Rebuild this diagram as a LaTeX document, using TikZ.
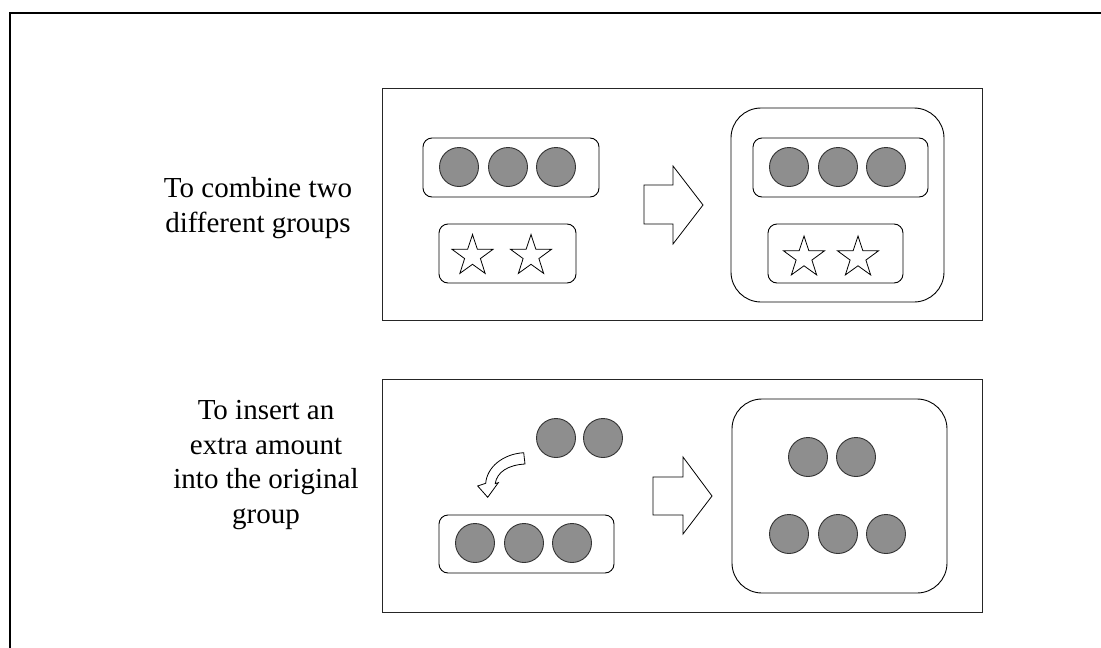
\documentclass[tikz,border=0pt]{standalone}
\usepackage{fontspec}
\setmainfont{Liberation Serif}
\usetikzlibrary{calc}
\begin{document}
\begin{tikzpicture}[x=1pt,y=-1pt,
  frame/.style={line width=2.4pt,line cap=rect},
  panel/.style={draw=black!85,line width=1pt},
  grp/.style={draw=black,line width=0.9pt,rounded corners=9pt},
  biggrp/.style={draw=black,line width=0.9pt,rounded corners=30pt},
  ball/.style={circle,draw=black!80,line width=0.9pt,fill=ballgray,minimum size=39pt,inner sep=0pt},
  blockarrow/.style={draw=black,line width=0.8pt,fill=white,line join=miter},
  starshape/.style={draw=black,line width=0.8pt,fill=white,line join=miter},
  label/.style={align=center,font=\fontsize{29}{34.5}\selectfont,inner sep=0pt}
]
\definecolor{ballgray}{RGB}{142,142,142}
\useasboundingbox (0,0) rectangle (1101,648);
% outer frame
\draw[frame] (10,660) -- (10,13) -- (1110,13);

% ---------- panel 1 ----------
\draw[panel] (382,88) rectangle (982,320);
\node[label] (t1) at (258,208) {To combine two\\different groups};
\draw[grp] (423,138) rectangle (599,197);
\node[ball] (a1) at (459,167) {};
\node[ball] (a2) at (508,167) {};
\node[ball] (a3) at (556,167) {};
\draw[grp] (439,224) rectangle (576,283);
\foreach \cx/\cy in {472.5/256,531/256,804/257.5,858/257.5}{
  \draw[starshape] ($(\cx,\cy)+(-90:21.5)$)
    -- ($(\cx,\cy)+(-54:8.3)$) -- ($(\cx,\cy)+(-18:21.5)$)
    -- ($(\cx,\cy)+(18:8.3)$) -- ($(\cx,\cy)+(54:21.5)$)
    -- ($(\cx,\cy)+(90:8.3)$) -- ($(\cx,\cy)+(126:21.5)$)
    -- ($(\cx,\cy)+(162:8.3)$) -- ($(\cx,\cy)+(198:21.5)$)
    -- ($(\cx,\cy)+(234:8.3)$) -- cycle;
}
\draw[blockarrow] (644,185) -- (673,185) -- (673,166) -- (703,205) -- (673,244) -- (673,224) -- (644,224) -- cycle;
\draw[biggrp] (731,108) rectangle (944,302);
\draw[grp] (753,138) rectangle (928,197);
\node[ball] (b1) at (789,167) {};
\node[ball] (b2) at (838,167) {};
\node[ball] (b3) at (886,167) {};
\draw[grp] (768,224) rectangle (903,283);

% ---------- panel 2 ----------
\draw[panel] (382,379) rectangle (982,612);
\node[label] (t2) at (266,465) {To insert an\\extra amount\\into the original\\group};
\node[ball] (c1) at (556,438) {};
\node[ball] (c2) at (603,438) {};
\draw[blockarrow] (523.7,452.7) .. controls (503,454) and (487,467) .. (485.7,483.3)
  -- (477.7,486) -- (487.7,497.3) -- (498.3,482.7) -- (495.2,483.6)
  .. controls (497,472) and (508,465) .. (525,464) -- cycle;
\draw[grp] (439,515) rectangle (614,573);
\node[ball] (d1) at (475,543) {};
\node[ball] (d2) at (524,543) {};
\node[ball] (d3) at (572,543) {};
\draw[blockarrow] (653,477) -- (683,477) -- (683,457) -- (712,496) -- (683,534) -- (683,515) -- (653,515) -- cycle;
\draw[biggrp] (732,399) rectangle (947,593);
\node[ball] (e1) at (808,457) {};
\node[ball] (e2) at (856,457) {};
\node[ball] (f1) at (789,534) {};
\node[ball] (f2) at (838,534) {};
\node[ball] (f3) at (886,534) {};
\end{tikzpicture}
\end{document}
